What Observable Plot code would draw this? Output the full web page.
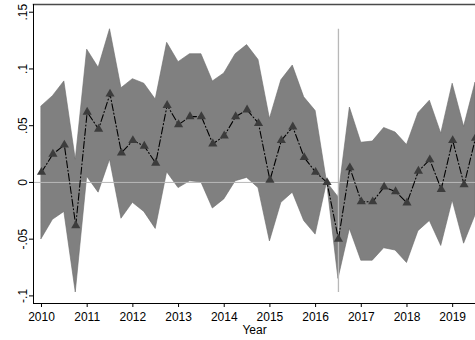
<!DOCTYPE html>
<html><head><meta charset="utf-8">
<script src="https://cdn.jsdelivr.net/npm/d3@7"></script>
<script src="https://cdn.jsdelivr.net/npm/@observablehq/plot@0.6"></script>
<style>body{margin:0;background:#fff} svg{display:block}</style>
</head><body><div id="chart"></div>
<script>
const periods = [2010, 2010.25, 2010.5, 2010.75, 2011, 2011.25, 2011.5, 2011.75, 2012, 2012.25, 2012.5, 2012.75,
  2013, 2013.25, 2013.5, 2013.75, 2014, 2014.25, 2014.5, 2014.75, 2015, 2015.25, 2015.5, 2015.75,
  2016, 2016.25, 2016.5, 2016.75, 2017, 2017.25, 2017.5, 2017.75, 2018, 2018.25, 2018.5, 2018.75,
  2019, 2019.25, 2019.5];
const estimate = [0.009, 0.025, 0.033, -0.038, 0.062, 0.047, 0.078, 0.026, 0.037, 0.032, 0.017, 0.068,
  0.051, 0.058, 0.058, 0.034, 0.041, 0.058, 0.064, 0.052, 0.002, 0.037, 0.049, 0.022,
  0.009, 0.000, -0.050, 0.013, -0.017, -0.017, -0.004, -0.008, -0.018, 0.010, 0.020, -0.006,
  0.037, -0.002, 0.039];
const upper = [0.067, 0.076, 0.089, 0.020, 0.117, 0.101, 0.135, 0.083, 0.091, 0.087, 0.073, 0.123,
  0.106, 0.113, 0.113, 0.089, 0.096, 0.113, 0.121, 0.108, 0.056, 0.090, 0.103, 0.075,
  0.063, 0.000, -0.013, 0.066, 0.035, 0.036, 0.048, 0.044, 0.033, 0.061, 0.072, 0.043,
  0.087, 0.049, 0.088];
const lower = [-0.050, -0.033, -0.026, -0.097, 0.005, -0.009, 0.020, -0.032, -0.018, -0.026, -0.041, 0.009,
  -0.005, 0.001, 0.000, -0.023, -0.015, 0.001, 0.004, -0.005, -0.052, -0.018, -0.009, -0.034,
  -0.046, 0.000, -0.085, -0.041, -0.069, -0.069, -0.058, -0.060, -0.071, -0.043, -0.034, -0.056,
  -0.016, -0.054, -0.029];
const xTicks = [2010, 2011, 2012, 2013, 2014, 2015, 2016, 2017, 2018, 2019];
const xTickLabels = ["2010", "2011", "2012", "2013", "2014", "2015", "2016", "2017", "2018", "2019"];
const yTicks = [0.15, 0.1, 0.05, 0, -0.05, -0.1];
const yTickLabels = [".15", ".1", ".05", "0", "-.05", "-.1"];
const xLine = 2016.5;
const xTitle = "Year";

const data = periods.map((t, i) => ({t, est: estimate[i], lo: lower[i], hi: upper[i]}));
const yLab = new Map(yTicks.map((v, i) => [v, yTickLabels[i]]));
const xLab = new Map(xTicks.map((v, i) => [v, xTickLabels[i]]));

const chart = Plot.plot({
  width: 475, height: 340,
  marginLeft: 33, marginRight: 0, marginTop: 4, marginBottom: 37,
  style: {fontFamily: "'Liberation Sans', Arial, sans-serif", fontSize: "12px", background: "#fff", color: "#000"},
  x: {domain: [2009.825, 2019.5]},
  y: {domain: [-0.1067, 0.1568]},
  marks: [
    Plot.areaY(data, {x: "t", y1: "lo", y2: "hi", fill: "#808080", stroke: "#6c6c6c", strokeWidth: 0.6, clip: true}),
    Plot.ruleY([0], {stroke: "#b8b8b8", strokeWidth: 1}),
    Plot.ruleX([xLine], {y1: d3.min(lower), y2: d3.max(upper), stroke: "#b8b8b8", strokeWidth: 1.3}),
    Plot.lineY(data, {x: "t", y: "est", stroke: "#000", strokeWidth: 1.1, strokeDasharray: "7,2.5,1,2.5", clip: true}),
    Plot.dot(data, {x: "t", y: "est", symbol: "triangle", r: 3.4, fill: "#3c3c3c", stroke: "none", clip: true}),
    Plot.frame({anchor: "top", stroke: "#4a4a4a", strokeWidth: 1.5}),
    Plot.frame({anchor: "left", stroke: "#000"}),
    Plot.frame({anchor: "bottom", stroke: "#000"}),
    Plot.axisY({ticks: yTicks, tickFormat: d => yLab.get(d), tickRotate: -90, tickSize: 4, tickPadding: 3, label: null}),
    Plot.axisX({ticks: xTicks, tickFormat: d => xLab.get(d), tickSize: 4, tickPadding: 5, label: null}),
    Plot.text([xTitle], {frameAnchor: "bottom", dy: 22, lineAnchor: "top", fontSize: 12})
  ]
});
document.getElementById("chart").append(chart);
</script>
</body></html>
